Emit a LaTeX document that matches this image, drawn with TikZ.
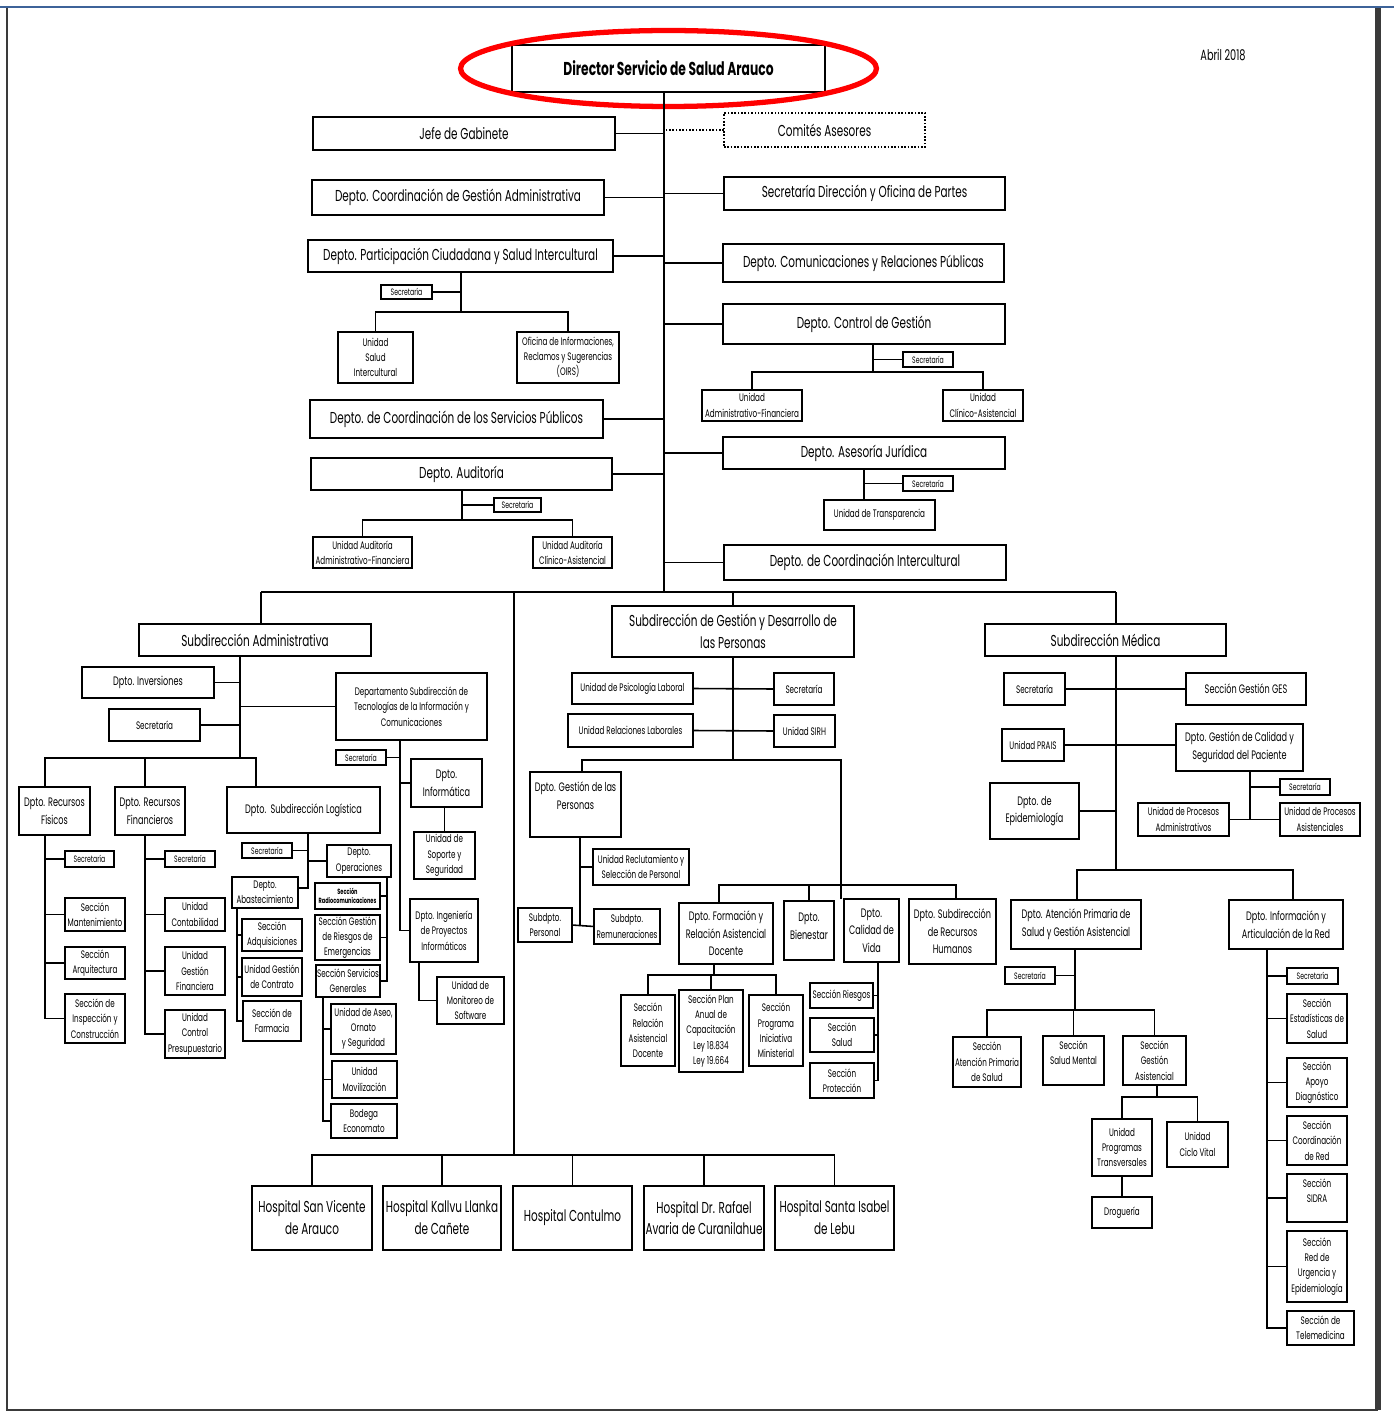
\documentclass[tikz,border=0pt]{standalone}
\usepackage{fontspec}
\setmainfont{Poppins}[FakeStretch=0.66]
\definecolor{marco}{HTML}{3D6399}
\definecolor{borde}{HTML}{3A3A3A}
\begin{document}
\begin{tikzpicture}[x=0.02cm,y=-0.02cm,line width=0.9pt,
 bx/.style n args={4}{draw,at={({(#1+#3)/2},{(#2+#4)/2})},
   minimum width={(#3-#1)*0.02cm},minimum height={(#4-#2)*0.02cm},
   inner sep=0pt,outer sep=0pt,align=center},
 txa/.style={font=\fontsize{9}{12.5}\selectfont},
 txb/.style={font=\fontsize{7}{10}\selectfont},
 txc/.style={font=\fontsize{6.2}{8.7}\selectfont},
 txd/.style={font=\fontsize{5.3}{7}\selectfont},
 txe/.style={font=\bfseries\fontsize{4.3}{5.5}\selectfont}]
\useasboundingbox (0,0) rectangle (1394,1412);
\draw[marco,line width=1.5pt] (0,7) -- (1394,7);
\draw[borde,line width=1.2pt] (7,8) -- (7,1410) -- (1378,1410);
\draw[borde,line width=3pt] (1378,8) -- (1378,1410);

\node[bx={512}{45}{825}{92},font=\bfseries\fontsize{10.6}{12}\selectfont] (dir) {Director Servicio de Salud Arauco};
\draw[red,line width=3pt] (dir.center) ellipse [x radius=4.16cm,y radius=0.76cm];
\node[font=\fontsize{8.4}{10}\selectfont] (fecha) at (1223,55) {Abril 2018};

\node[bx={313}{117}{615}{150},txa] (jefe) {Jefe de Gabinete};
\node[bx={724}{113}{925}{147},txa,densely dotted] (com) {Comités Asesores};
\node[bx={312}{180}{604}{215},txa] (cga) {Depto. Coordinación de Gestión Administrativa};
\node[bx={724}{177}{1005}{210},txa] (sdo) {Secretaría Dirección y Oficina de Partes};
\node[bx={308}{240}{613}{272},txa] (dpc) {Depto. Participación Ciudadana y Salud Intercultural};
\node[bx={723}{244}{1004}{282},txa] (dcr) {Depto. Comunicaciones y Relaciones Públicas};
\node[bx={381}{285}{432}{299},txd] (sec_pc) {Secretaría};
\node[bx={338}{332}{413}{383},txc] (usi) {Unidad\\Salud\\Intercultural};
\node[bx={517}{332}{619}{383},txc] (oirs) {Oficina de Informaciones,\\Reclamos y Sugerencias\\(OIRS)};
\node[bx={310}{400}{603}{438},txa] (dsp) {Depto. de Coordinación de los Servicios Públicos};
\node[bx={311}{458}{612}{490},txa] (daud) {Depto. Auditoría};
\node[bx={494}{498}{541}{512},txd] (sec_aud) {Secretaría};
\node[bx={313}{537}{412}{568},txc] (uaaf) {Unidad Auditoría\\Administrativo-Financiera};
\node[bx={533}{537}{612}{568},txc] (uaca) {Unidad Auditoría\\Clínico-Asistencial};
\node[bx={723}{304}{1005}{344},txa] (dcg) {Depto. Control de Gestión};
\node[bx={903}{352}{953}{367},txd] (sec_cg) {Secretaría};
\node[bx={702}{390}{802}{421},txc] (uaf) {Unidad\\Administrativo-Financiera};
\node[bx={943}{390}{1023}{421},txc] (uca) {Unidad\\Clínico-Asistencial};
\node[bx={723}{437}{1005}{469},txa] (daj) {Depto. Asesoría Jurídica};
\node[bx={903}{476}{953}{491},txd] (sec_aj) {Secretaría};
\node[bx={824}{500}{935}{530},txc] (utr) {Unidad de Transparencia};
\node[bx={724}{545}{1006}{580},txa] (dci) {Depto. de Coordinación Intercultural};

\coordinate (sp) at (664,592);
\coordinate (t_pc) at (461,312);
\coordinate (t_au) at (462,520);
\coordinate (t_cg) at (873,372);
\coordinate (t_aj) at (864,500);
\draw (dir.south -| sp) -- (sp);
\draw (jefe.east) -- (jefe.east -| sp);
\draw[densely dotted] (com.west) -- (com.west -| sp);
\draw (cga.east) -- (cga.east -| sp);
\draw (dpc.east) -- (dpc.east -| sp);
\draw (dsp.east) -- (dsp.east -| sp);
\draw (daud.east) -- (daud.east -| sp);
\draw (sdo.west) -- (sdo.west -| sp);
\draw (dcr.west) -- (dcr.west -| sp);
\draw (dcg.west) -- (dcg.west -| sp);
\draw (daj.west) -- (daj.west -| sp);
\draw (dci.west) -- (dci.west -| sp);
\draw (dpc.south -| t_pc) -- (t_pc);
\draw (sec_pc.east) -- (sec_pc.east -| t_pc);
\draw (usi.north) |- (t_pc) -| (oirs.north);
\draw (daud.south -| t_au) -- (t_au);
\draw (sec_aud.west) -- (sec_aud.west -| t_au);
\draw (uaaf.north) |- (t_au) -| (uaca.north);
\draw (dcg.south -| t_cg) -- (t_cg);
\draw (sec_cg.west) -- (sec_cg.west -| t_cg);
\draw (uaf.north) |- (t_cg) -| (uca.north);
\draw (daj.south -| t_aj) -- (t_aj);
\draw (sec_aj.west) -- (sec_aj.west -| t_aj);

\node[bx={139}{624}{371}{656},txa] (sadm) {Subdirección Administrativa};
\node[bx={612}{606}{854}{657},txa] (sdp) {Subdirección de Gestión y Desarrollo de\\las Personas};
\node[bx={985}{624}{1226}{656},txa] (smed) {Subdirección Médica};
\coordinate (b_l) at (261,592);
\coordinate (b_r) at (1116,592);
\coordinate (hb) at (514,1155);
\draw (b_l) -- (b_r);
\draw (b_l) -- (b_l |- sadm.north);
\draw (sdp.north) -- (sdp.north |- b_l);
\draw (b_r) -- (b_r |- smed.north);
\draw (hb |- b_l) -- (hb);

\node[bx={252}{1186}{372}{1250},txa] (h_1) {Hospital San Vicente\\de Arauco};
\node[bx={383}{1186}{501}{1250},txa] (h_2) {Hospital Kallvu Llanka\\de Cañete};
\node[bx={513}{1186}{632}{1250},txa] (h_3) {Hospital Contulmo};
\node[bx={644}{1186}{764}{1250},txa] (h_4) {Hospital Dr. Rafael\\Avaria de Curanilahue};
\node[bx={775}{1186}{894}{1250},txa] (h_5) {Hospital Santa Isabel\\de Lebu};
\draw (h_1.north) |- (hb) -| (h_5.north);
\draw (h_2.north) -- (h_2.north |- hb);
\draw (h_3.north) -- (h_3.north |- hb);
\draw (h_4.north) -- (h_4.north |- hb);

\node[bx={82}{667}{214}{698},txb] (inv) {Dpto. Inversiones};
\node[bx={109}{709}{200}{741},txc] (sec_adm) {Secretaría};
\node[bx={336}{673}{487}{740},txc] (tic) {Departamento Subdirección de\\Tecnologías de la Información y\\Comunicaciones};
\node[bx={19}{787}{90}{835},txb] (rf) {Dpto. Recursos\\Físicos};
\node[bx={115}{787}{185}{835},txb] (rfi) {Dpto. Recursos\\Financieros};
\node[bx={227}{787}{380}{833},txb] (log) {Dpto.~~Subdirección Logística};
\coordinate (t_a) at (240,758);
\coordinate (b_rf) at (45,758);
\coordinate (b_rfi) at (145,758);
\coordinate (b_log) at (256,758);
\draw (sadm.south -| t_a) -- (t_a);
\draw (inv.east) -- (inv.east -| t_a);
\draw (sec_adm.east) -- (sec_adm.east -| t_a);
\draw (tic.west) -- (tic.west -| t_a);
\draw (b_rf |- rf.north) -- (b_rf) -- (b_log) -- (b_log |- log.north);
\draw (b_rfi) -- (b_rfi |- rfi.north);

\node[bx={65}{851}{114}{867},txd] (sec_rf) {Secretaría};
\node[bx={65}{898}{125}{931},txc] (mant) {Sección\\Mantenimiento};
\node[bx={65}{947}{125}{979},txc] (arq) {Sección\\Arquitectura};
\node[bx={65}{994}{125}{1043},txc] (insp) {Sección de\\Inspección y\\Construcción};
\draw (b_rf |- rf.south) |- (insp.west);
\draw (sec_rf.west) -- (sec_rf.west -| b_rf);
\draw (mant.west) -- (mant.west -| b_rf);
\draw (arq.west) -- (arq.west -| b_rf);

\node[bx={165}{851}{215}{867},txd] (sec_rfi) {Secretaría};
\node[bx={165}{898}{225}{931},txc] (cont) {Unidad\\Contabilidad};
\node[bx={165}{947}{225}{995},txc] (ugf) {Unidad\\Gestión\\Financiera};
\node[bx={165}{1010}{225}{1058},txc] (ucp) {Unidad\\Control\\Presupuestario};
\draw (b_rfi |- rfi.south) |- (ucp.west);
\draw (sec_rfi.west) -- (sec_rfi.west -| b_rfi);
\draw (cont.west) -- (cont.west -| b_rfi);
\draw (ugf.west) -- (ugf.west -| b_rfi);

\node[bx={242}{843}{292}{858},txd] (sec_log) {Secretaría};
\node[bx={327}{845}{391}{877},txc] (ope) {Depto.\\Operaciones};
\node[bx={232}{877}{298}{908},txc] (abas) {Depto.\\Abastecimiento};
\coordinate (t_log) at (308,888);
\draw (log.south -| t_log) -- (t_log) -- (t_log -| abas.east);
\draw (sec_log.east) -- (sec_log.east -| t_log);
\draw (ope.west) -- (ope.west -| t_log);

\node[bx={242}{919}{302}{951},txc] (adq) {Sección\\Adquisiciones};
\node[bx={242}{958}{302}{996},txc] (ugc) {Unidad Gestión\\de Contrato};
\node[bx={243}{1001}{301}{1041},txc] (farm) {Sección de\\Farmacia};
\coordinate (t_ab) at (237,908);
\draw (t_ab) |- (farm.west);
\draw (adq.west) -- (adq.west -| t_ab);
\draw (ugc.west) -- (ugc.west -| t_ab);

\node[bx={315}{883}{380}{909},txe] (radio) {Sección\\Radiocomunicaciones};
\node[bx={315}{915}{380}{960},txc] (sgr) {Sección Gestión\\de Riesgos de\\Emergencias};
\node[bx={316}{965}{380}{997},txc] (ssg) {Sección Servicios\\Generales};
\coordinate (t_op) at (387,877);
\draw (t_op) |- (ssg.east);
\draw (radio.east) -- (radio.east -| t_op);
\draw (sgr.east) -- (sgr.east -| t_op);

\node[bx={331}{1004}{396}{1054},txc] (aseo) {Unidad de Aseo,\\Ornato\\y Seguridad};
\node[bx={332}{1061}{397}{1098},txc] (mov) {Unidad\\Movilización};
\node[bx={331}{1104}{397}{1138},txc] (bod) {Bodega\\Economato};
\coordinate (t_sg) at (323,997);
\draw (t_sg) |- (bod.west);
\draw (aseo.west) -- (aseo.west -| t_sg);
\draw (mov.west) -- (mov.west -| t_sg);

\node[bx={336}{750}{386}{765},txd] (sec_tic) {Secretaría};
\node[bx={411}{759}{482}{807},txb] (inf) {Dpto.\\Informática};
\node[bx={414}{832}{475}{879},txc] (sop) {Unidad de\\Soporte y\\Seguridad};
\node[bx={410}{899}{478}{962},txc] (ing) {Dpto. Ingeniería\\de Proyectos\\Informáticos};
\node[bx={437}{977}{504}{1024},txc] (mon) {Unidad de\\Monitoreo de\\Software};
\coordinate (t_tic) at (400,740);
\coordinate (t_ing) at (419,962);
\draw (t_tic) |- (ing.west);
\draw (sec_tic.east) -- (sec_tic.east -| t_tic);
\draw (inf.west) -- (inf.west -| t_tic);
\draw (sop.north) -- (sop.north |- inf.south);
\draw (t_ing) |- (mon.west);

\node[bx={572}{673}{693}{704},txc] (psi) {Unidad de Psicología Laboral};
\node[bx={774}{673}{834}{705},txc] (sec_dp) {Secretaría};
\node[bx={568}{714}{693}{747},txc] (rel) {Unidad Relaciones Laborales};
\node[bx={774}{715}{835}{747},txc] (sirh) {Unidad SIRH};
\node[bx={530}{772}{621}{837},txb] (dgp) {Dpto. Gestión de las\\Personas\\~};
\coordinate (t_dp) at (733,760);
\coordinate (b_gp) at (582,760);
\coordinate (b_fo) at (841,760);
\coordinate (k_fo) at (841,885);
\draw (sdp.south) -- (t_dp);
\draw (psi.east) -- (sec_dp.west);
\draw (rel.east) -- (sirh.west);
\draw (b_gp |- dgp.north) -- (b_gp) -- (b_fo) -- (k_fo);

\node[bx={593}{849}{689}{885},txc] (recl) {Unidad Reclutamiento y\\Selección de Personal};
\node[bx={518}{908}{572}{942},txc] (sper) {Subdpto.\\Personal};
\node[bx={594}{909}{660}{944},txc] (srem) {Subdpto.\\Remuneraciones};
\coordinate (t_gp) at (580,837);
\draw (t_gp) -- (t_gp |- sper.east);
\draw (sper.east) -- (srem.west);
\draw (recl.west) -- (recl.west -| t_gp);

\node[bx={679}{903}{773}{964},txb] (dfo) {Dpto. Formación y\\Relación Asistencial\\Docente};
\node[bx={784}{901}{834}{960},txb] (bien) {Dpto.\\Bienestar\\[-5pt]~};
\node[bx={844}{899}{899}{962},txb] (cal) {Dpto.\\Calidad de\\Vida};
\node[bx={909}{899}{996}{964},txb] (srh) {Dpto. Subdirección\\de Recursos\\Humanos};
\coordinate (b_f1) at (719,885);
\coordinate (b_f4) at (956,885);
\draw (b_f1 |- dfo.north) -- (b_f1) -- (b_f4) -- (b_f4 |- srh.north);
\draw (bien.north) -- (bien.north |- b_f1);
\draw (k_fo |- cal.north) -- (k_fo);

\node[bx={621}{995}{675}{1066},txc] (sra) {Sección\\Relación\\Asistencial\\Docente};
\node[bx={679}{990}{743}{1072},txc] (spa) {Sección Plan\\Anual de\\Capacitación\\Ley 18.834\\Ley 19.664};
\node[bx={749}{995}{803}{1066},txc] (spm) {Sección\\Programa\\Iniciativa\\Ministerial};
\coordinate (t_fo) at (714,975);
\draw (t_fo |- dfo.south) -- (t_fo);
\draw (sra.north) |- (t_fo) -| (spm.north);
\draw (spa.north) -- (spa.north |- t_fo);

\node[bx={810}{983}{873}{1008},txc] (sries) {Sección Riesgos};
\node[bx={810}{1018}{874}{1052},txc] (ssal) {Sección\\Salud};
\node[bx={810}{1063}{874}{1098},txc] (spro) {Sección\\Protección};
\coordinate (t_cal) at (878,962);
\draw (t_cal) |- (spro.east);
\draw (sries.east) -- (sries.east -| t_cal);
\draw (ssal.east) -- (ssal.east -| t_cal);

\node[bx={1004}{673}{1065}{705},txc] (sec_med) {Secretaría};
\node[bx={1186}{673}{1306}{705},txb] (ges) {Sección Gestión GES};
\node[bx={1002}{729}{1064}{761},txc] (prais) {Unidad PRAIS};
\node[bx={1176}{724}{1303}{771},txb] (dcal) {Dpto. Gestión de Calidad y\\Seguridad del Paciente};
\node[bx={990}{783}{1079}{839},txb] (epi) {Dpto. de\\Epidemiología};
\coordinate (t_med) at (1116,870);
\draw (smed.south -| t_med) -- (t_med);
\draw (sec_med.east) -- (ges.west);
\draw (prais.east) -- (prais.east -| dcal.west);
\draw (epi.east) -- (epi.east -| t_med);

\node[bx={1280}{779}{1330}{795},txd] (sec_q) {Secretaría};
\node[bx={1138}{803}{1229}{836},txc] (upa) {Unidad de Procesos\\Administrativos};
\node[bx={1280}{803}{1360}{836},txc] (upas) {Unidad de Procesos\\Asistenciales};
\coordinate (t_q) at (1250,819);
\draw (t_q |- dcal.south) -- (t_q);
\draw (sec_q.west) -- (sec_q.west -| t_q);
\draw (upa.east) -- (upas.west);

\node[bx={1011}{900}{1141}{949},txb] (dap) {Dpto. Atención Primaria de\\Salud y Gestión Asistencial};
\node[bx={1229}{900}{1343}{949},txb] (dinf) {Dpto. Información y\\Articulación de la Red};
\coordinate (b_ap) at (1077,870);
\coordinate (b_inf) at (1293,870);
\draw (b_ap |- dap.north) -- (b_ap) -- (b_inf) -- (b_inf |- dinf.north);

\node[bx={1005}{967}{1055}{984},txd] (sec_ap) {Secretaría};
\node[bx={953}{1037}{1021}{1087},txc] (sapr) {Sección\\Atención Primaria\\de Salud};
\node[bx={1043}{1036}{1104}{1085},txc] (ssm) {Sección\\Salud Mental\\~};
\node[bx={1123}{1036}{1186}{1085},txc] (sga) {Sección\\Gestión\\Asistencial};
\coordinate (t_ap) at (1075,1010);
\draw (t_ap |- dap.south) -- (t_ap);
\draw (sec_ap.east) -- (sec_ap.east -| t_ap);
\draw (sapr.north) |- (t_ap) -| (sga.north);
\draw (ssm.north) -- (ssm.north |- t_ap);

\node[bx={1092}{1119}{1152}{1176},txc] (upt) {Unidad\\Programas\\Transversales};
\node[bx={1167}{1122}{1228}{1167},txc] (ucv) {Unidad\\Ciclo Vital};
\node[bx={1092}{1197}{1152}{1228},txc] (drog) {Droguería};
\coordinate (t_ga) at (1157,1097);
\draw (t_ga |- sga.south) -- (t_ga);
\draw (upt.north) |- (t_ga) -| (ucv.north);
\draw (upt.south) -- (drog.north);

\node[bx={1287}{968}{1338}{984},txd] (sec_inf) {Secretaría};
\node[bx={1287}{994}{1347}{1043},txc] (sest) {Sección\\Estadísticas de\\Salud};
\node[bx={1287}{1058}{1347}{1107},txc] (sapo) {Sección\\Apoyo\\Diagnóstico};
\node[bx={1287}{1116}{1347}{1165},txc] (scor) {Sección\\Coordinación\\de Red};
\node[bx={1287}{1174}{1347}{1222},txc] (ssid) {Sección\\SIDRA\\~};
\node[bx={1287}{1231}{1347}{1302},txc] (surg) {Sección\\Red de\\Urgencia y\\Epidemiología};
\node[bx={1287}{1311}{1354}{1345},txc] (tele) {Sección de\\Telemedicina};
\coordinate (t_inf) at (1267,949);
\draw (t_inf) |- (tele.west);
\draw (sec_inf.west) -- (sec_inf.west -| t_inf);
\draw (sest.west) -- (sest.west -| t_inf);
\draw (sapo.west) -- (sapo.west -| t_inf);
\draw (scor.west) -- (scor.west -| t_inf);
\draw (ssid.west) -- (ssid.west -| t_inf);
\draw (surg.west) -- (surg.west -| t_inf);
\end{tikzpicture}
\end{document}
